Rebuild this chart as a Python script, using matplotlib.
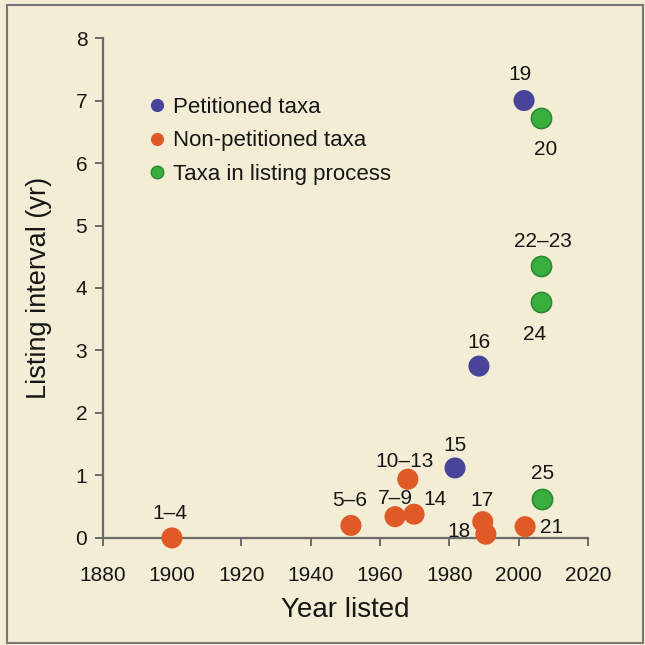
import matplotlib.pyplot as plt
from matplotlib.patches import Rectangle

plt.rcParams['font.family'] = ['Liberation Sans', 'DejaVu Sans']

# petitioned taxa
pet_year = [1981.6, 1988.5, 2001.5]
pet_int = [1.12, 2.75, 7.0]
pet_lab = ['15', '16', '19']

# non-petitioned taxa
non_year = [1900, 1951.6, 1964.3, 1968.0, 1969.8, 1989.6, 1990.5, 2001.8]
non_int = [0.0, 0.2, 0.34, 0.94, 0.38, 0.26, 0.06, 0.18]
non_lab = ['1\u20134', '5\u20136', '7\u20139', '10\u201313', '14', '17', '18', '21']

# taxa in listing process
lst_year = [2006.4, 2006.4, 2006.4, 2006.6]
lst_int = [6.72, 4.35, 3.77, 0.62]
lst_lab = ['20', '22\u201323', '24', '25']

# label offsets in pixels (dx, dy)
offsets = {
    '15': (0, 22), '16': (0, 24), '19': (-4, 26),
    '1\u20134': (-2, 24), '5\u20136': (-1, 25), '7\u20139': (0, 18),
    '10\u201313': (-3, 18), '14': (21, 15), '17': (-1, 21), '18': (-27, 3),
    '21': (26, -1), '20': (5, -31), '22\u201323': (2, 25), '24': (-6, -32),
    '25': (1, 26),
}

bg = '#f4edd5'
blue = '#47449a'
orange = '#e05a28'
green = '#3aad3f'
axc = '#6a6a6a'
txt = '#161616'

fig = plt.figure(figsize=(6.45, 6.45), dpi=100, facecolor=bg)
ax = fig.add_axes([0.159, 0.166, 0.753, 0.775])
ax.set_facecolor(bg)

ax.scatter(pet_year, pet_int, s=230, color=blue, edgecolors='none', clip_on=False, zorder=3)
ax.scatter(non_year, non_int, s=230, color=orange, edgecolors='none', clip_on=False, zorder=3)
ax.scatter(lst_year, lst_int, s=210, color=green, edgecolors='#2a8a30', linewidths=1.2,
           clip_on=False, zorder=3)

for xs, ys, labs in [(pet_year, pet_int, pet_lab), (non_year, non_int, non_lab),
                     (lst_year, lst_int, lst_lab)]:
    for x, y, t in zip(xs, ys, labs):
        dx, dy = offsets[t]
        ax.annotate(t, (x, y), xytext=(dx, dy), textcoords='offset pixels',
                    ha='center', va='center', fontsize=15, color=txt, zorder=4)

ax.set_xlim(1880, 2020)
ax.set_ylim(0, 8)
ax.set_xticks(range(1880, 2021, 20))
ax.set_yticks(range(0, 9))
for s in ['top', 'right']:
    ax.spines[s].set_visible(False)
for s in ['left', 'bottom']:
    ax.spines[s].set_color(axc)
    ax.spines[s].set_linewidth(1.6)
ax.tick_params(colors=axc, width=1.4, length=6, labelsize=15, labelcolor=txt)
ax.tick_params(axis='x', pad=14)
ax.tick_params(axis='y', pad=5)

ax.set_xlabel('Year listed', fontsize=20, color=txt, labelpad=9)
ax.set_ylabel('Listing interval (yr)', fontsize=19.5, color=txt, labelpad=17)

h1, = ax.plot([], [], 'o', ms=9.5, color=blue, mec='none')
h2, = ax.plot([], [], 'o', ms=9.5, color=orange, mec='none')
h3, = ax.plot([], [], 'o', ms=9, color=green, mec='#2a8a30', mew=1)
ax.legend([h1, h2, h3], ['Petitioned taxa', 'Non-petitioned taxa', 'Taxa in listing process'],
          loc='upper left', bbox_to_anchor=(0.094, 0.882), frameon=False, borderpad=0,
          borderaxespad=0, handlelength=0.8, handletextpad=0.3, labelspacing=0.56,
          fontsize=16, labelcolor=txt)

fig.patches.append(Rectangle((7 / 645, 2 / 645), 636 / 645, 638 / 645, transform=fig.transFigure,
                             fill=False, edgecolor='#777777', linewidth=1.5))

fig.savefig('out.png', dpi=100, facecolor=bg)
